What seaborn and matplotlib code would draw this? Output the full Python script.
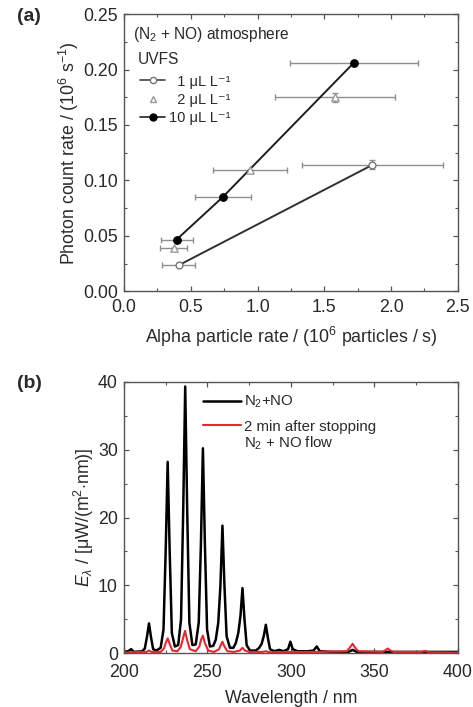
import numpy as np
import pandas as pd
import seaborn as sns
import matplotlib.pyplot as plt
from matplotlib.lines import Line2D
from matplotlib.ticker import MultipleLocator

sns.set_theme(style="white")
plt.rcParams['font.family'] = ['Liberation Sans', 'DejaVu Sans']
plt.rcParams['mathtext.fontset'] = 'custom'
plt.rcParams['mathtext.rm'] = 'Liberation Sans'
plt.rcParams['mathtext.it'] = 'Liberation Sans:italic'
TXT = '#2a2a2a'
MU = '\u03bc'

# ---- panel (a): photon count rate vs alpha particle rate ----
alpha_1 = [0.41, 1.86]
photon_1 = [0.0235, 0.114]
xerr_1 = [0.125, 0.53]
yerr_1 = [0.0, 0.004]

alpha_2 = [0.373, 0.945, 1.58]
photon_2 = [0.0394, 0.109, 0.175]
xerr_2 = [0.10, 0.275, 0.45]
yerr_2 = [0.0, 0.0, 0.004]

alpha_10 = [0.395, 0.74, 1.72]
photon_10 = [0.0467, 0.085, 0.206]
xerr_10 = [0.12, 0.21, 0.48]
yerr_10 = [0.0, 0.0, 0.0]

conc_labels = ['  1 ' + MU + 'L L\u207b\u00b9', '  2 ' + MU + 'L L\u207b\u00b9',
               '10 ' + MU + 'L L\u207b\u00b9']

# ---- panel (b): spectral irradiance ----
wl_on = [200, 202.5, 204.3, 206, 211, 212.5, 213.8, 215, 216.2, 217.5, 219.5,
         222, 223.7, 225, 226.2, 227.4, 228.7, 230.5, 232.5, 234.2, 235.5, 236.7,
         237.9, 239.2, 241, 243, 244.8, 246.1, 247.3, 248.5, 249.8, 251.5, 253.5,
         255, 256.5, 257.8, 259, 260.2, 261.5, 263.5, 265.5, 267, 268.5, 269.8,
         271, 272.2, 273.5, 275.5, 279, 281, 282.5, 283.8, 285, 286.2, 287.5,
         290, 293, 295.5, 298.3, 299.7, 301.1, 304, 310, 313.5, 315.5, 317.3,
         325, 334.5, 337, 339.5, 350, 400]
irr_on = [0.2, 0.3, 0.6, 0.2, 0.3, 0.7, 2.4, 4.4, 2.4, 0.6, 0.4,
          0.8, 3.5, 15.0, 28.2, 15.0, 3.0, 1.0, 1.2, 5.0, 21.0, 39.3,
          21.0, 4.5, 1.2, 1.3, 4.5, 16.0, 30.2, 16.0, 3.5, 1.0, 1.1,
          2.0, 4.5, 10.0, 18.8, 10.0, 2.5, 0.8, 0.8, 1.5, 3.0, 5.5,
          9.6, 5.0, 1.2, 0.4, 0.4, 0.8, 1.4, 2.6, 4.2, 2.3, 0.6,
          0.3, 0.5, 0.3, 0.6, 1.7, 0.6, 0.3, 0.3, 0.4, 1.0, 0.3,
          0.2, 0.2, 0.5, 0.2, 0.2, 0.2]

wl_off = [200, 210, 213.5, 215, 216.5, 222, 224, 225, 226.2, 227.4, 229, 232,
          234, 235.4, 236.6, 237.8, 239.5, 243, 245.2, 246.2, 247.3, 248.5,
          250.5, 254, 257, 258, 259, 260.2, 262, 266, 269.5, 271, 272.5, 275,
          283, 285, 287, 300, 315, 333.5, 335.5, 337, 338.5, 340.5, 355, 356.8,
          358, 359.3, 361.5, 378, 380.5, 383, 400]
irr_off = [0.1, 0.2, 0.2, 0.4, 0.2, 0.2, 0.7, 1.5, 2.2, 1.4, 0.4, 0.3,
           0.9, 2.2, 3.3, 2.0, 0.6, 0.3, 1.0, 2.0, 2.6, 1.5,
           0.4, 0.2, 0.6, 1.2, 1.7, 1.0, 0.3, 0.2, 0.4, 0.8, 0.4, 0.2,
           0.2, 0.3, 0.15, 0.2, 0.2, 0.3, 0.9, 1.4, 0.8, 0.3, 0.2, 0.5,
           0.7, 0.45, 0.2, 0.2, 0.35, 0.15, 0.1]

fig = plt.figure(figsize=(4.73, 7.07), dpi=100)
ax1 = fig.add_axes([0.262, 0.588, 0.706, 0.392])
ax2 = fig.add_axes([0.262, 0.076, 0.706, 0.384])

GRAY = '#8f8f8f'

# error bars
for xs, ys, xe, ye in [(alpha_1, photon_1, xerr_1, yerr_1),
                       (alpha_2, photon_2, xerr_2, yerr_2),
                       (alpha_10, photon_10, xerr_10, yerr_10)]:
    ax1.errorbar(xs, ys, xerr=xe, yerr=ye, fmt='none', ecolor=GRAY,
                 elinewidth=1.0, capsize=2.5, capthick=1.0, zorder=1)

# connecting lines
sns.lineplot(x=alpha_1, y=photon_1, color='#303030', lw=1.4, ax=ax1, zorder=2)
sns.lineplot(x=alpha_10, y=photon_10, color='#1e1e1e', lw=1.4, ax=ax1, zorder=2)

# markers
sns.scatterplot(x=alpha_1, y=photon_1, marker='o', s=24, facecolor='white',
                edgecolor='#777777', linewidth=1.0, ax=ax1, zorder=3)
sns.scatterplot(x=alpha_2, y=photon_2, marker='^', s=28, facecolor='white',
                edgecolor='#999999', linewidth=1.0, ax=ax1, zorder=3)
sns.scatterplot(x=alpha_10, y=photon_10, marker='o', s=30, color='black',
                edgecolor='black', linewidth=0.8, ax=ax1, zorder=3)

ax1.set_xlim(0, 2.5)
ax1.set_ylim(0, 0.25)
ax1.xaxis.set_major_locator(MultipleLocator(0.5))
ax1.xaxis.set_minor_locator(MultipleLocator(0.25))
ax1.yaxis.set_major_locator(MultipleLocator(0.05))
ax1.yaxis.set_minor_locator(MultipleLocator(0.025))
ax1.xaxis.set_major_formatter(plt.FormatStrFormatter('%.1f'))
ax1.yaxis.set_major_formatter(plt.FormatStrFormatter('%.2f'))
ax1.set_xlabel(r'Alpha particle rate / (10$^6$ particles / s)', fontsize=12.8,
               color=TXT)
ax1.set_ylabel(r'Photon count rate / (10$^6$ s$^{-1}$)', fontsize=12.8, color=TXT)
ax1.xaxis.set_label_coords(0.5, -0.12)
ax1.yaxis.set_label_coords(-0.129, 0.5)

handles = [
    Line2D([], [], color='#444444', lw=1.2, marker='o', ms=4.5, mfc='white', mec='#777777'),
    Line2D([], [], color='none', lw=0, marker='^', ms=5, mfc='white', mec='#999999'),
    Line2D([], [], color='#222222', lw=1.2, marker='o', ms=5, mfc='black', mec='black'),
]
leg = ax1.legend(handles, conc_labels, loc='upper left', bbox_to_anchor=(0.048, 0.782),
                 frameon=False, fontsize=10.5, handlelength=1.75, handletextpad=0.25,
                 labelspacing=0.3, borderaxespad=0, borderpad=0)
for t in leg.get_texts():
    t.set_color(TXT)
ax1.text(0.027, 0.925, r'(N$_2$ + NO) atmosphere', transform=ax1.transAxes,
         fontsize=11.2, color=TXT, va='center')
ax1.text(0.042, 0.835, 'UVFS', transform=ax1.transAxes, fontsize=11.2,
         color=TXT, va='center')

# spectra
sns.lineplot(x=wl_on, y=irr_on, color='black', lw=1.8, ax=ax2, label=r'N$_2$+NO')
sns.lineplot(x=wl_off, y=irr_off, color='#e8262e', lw=1.5, ax=ax2,
             label='2 min after stopping')
ax2.set_xlim(200, 400)
ax2.set_ylim(0, 40)
ax2.xaxis.set_major_locator(MultipleLocator(50))
ax2.xaxis.set_minor_locator(MultipleLocator(25))
ax2.yaxis.set_major_locator(MultipleLocator(10))
ax2.yaxis.set_minor_locator(MultipleLocator(5))
ax2.set_xlabel('Wavelength / nm', fontsize=12.8, color=TXT)
ax2.set_ylabel(r'$E_\lambda$ / [' + MU + r'W/(m$^2$$\cdot$nm)]', fontsize=12.8,
               color=TXT)
ax2.xaxis.set_label_coords(0.5, -0.135)
ax2.yaxis.set_label_coords(-0.085, 0.5)
leg2 = ax2.legend(loc='upper left', bbox_to_anchor=(0.237, 0.955), frameon=False,
                  fontsize=10.8, handlelength=2.5, handletextpad=0.2,
                  labelspacing=0.62, borderaxespad=0, borderpad=0)
for t in leg2.get_texts():
    t.set_color(TXT)
ax2.text(0.361, 0.772, r'N$_2$ + NO flow', transform=ax2.transAxes, fontsize=10.8,
         color=TXT, va='center')

for ax in (ax1, ax2):
    for s in ax.spines.values():
        s.set_color('#555555')
        s.set_linewidth(1.0)
        s.set_visible(True)
    ax.tick_params(which='both', direction='in', top=True, right=True,
                   bottom=True, left=True, colors='#555555', labelcolor=TXT,
                   labelsize=12.8)
    ax.tick_params(which='major', length=3.5, width=0.9)
    ax.tick_params(which='minor', length=2, width=0.8)
    ax.tick_params(axis='y', which='major', pad=4.3)
ax1.tick_params(axis='x', which='major', pad=5.5)
ax2.tick_params(axis='x', which='major', pad=7.5)

fig.text(0.036, 0.976, '(a)', fontsize=14, fontweight='bold', color=TXT, va='center')
fig.text(0.036, 0.457, '(b)', fontsize=14, fontweight='bold', color=TXT, va='center')

fig.savefig('out.png', dpi=100)
